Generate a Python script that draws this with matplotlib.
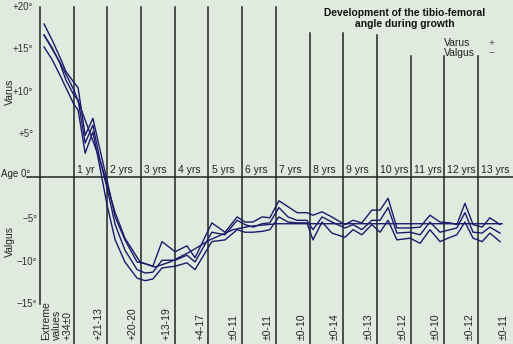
import numpy as np
import matplotlib
matplotlib.use("Agg")
import matplotlib.pyplot as plt

plt.rcParams['font.family'] = ['Liberation Sans', 'DejaVu Sans']

# age (years) of the plotted points for the three jagged curves
ages = [0.12, 0.36, 0.59, 0.77, 1.01, 1.13, 1.34, 1.57, 1.78, 1.99,
        2.23, 2.52, 2.88, 3.12, 3.35, 3.62, 4.01, 4.36, 4.60, 5.10,
        5.49, 5.85, 6.08, 6.32, 6.59, 6.82, 7.09, 7.36, 7.63, 7.92,
        8.10, 8.37, 8.66, 9.05, 9.29, 9.55, 9.85, 10.09, 10.33, 10.59,
        10.98, 11.28, 11.57, 11.87, 12.17, 12.37, 12.61, 12.85, 13.12, 13.35,
        13.65]

upper = [18.0, 16.1, 14.1, 12.4, 11.1, 10.5, 4.9, 6.9, 3.2, -0.4,
         -4.7, -7.4, -10.0, -10.2, -10.5, -7.6, -8.8, -8.1, -9.5, -5.4,
         -6.5, -4.7, -5.3, -5.3, -4.7, -4.8, -2.8, -3.5, -4.2, -4.2,
         -4.5, -4.1, -4.7, -5.6, -5.1, -5.4, -3.9, -3.9, -2.5, -6.0,
         -6.0, -5.9, -4.5, -5.3, -5.4, -5.6, -3.1, -5.6, -5.9, -4.8,
         -5.6]

mean = [16.7, 15.2, 13.4, 11.4, 9.6, 9.1, 4.0, 6.1, 2.0, -1.3,
        -5.6, -8.6, -10.9, -11.3, -11.2, -9.8, -9.8, -9.2, -10.0, -6.5,
        -6.8, -5.1, -5.6, -5.9, -5.5, -5.4, -3.6, -4.7, -5.1, -5.1,
        -6.2, -4.7, -5.3, -6.0, -5.6, -6.2, -5.1, -5.1, -3.6, -6.6,
        -6.5, -6.8, -5.3, -6.5, -6.2, -6.0, -4.2, -6.5, -6.6, -5.9,
        -6.6]

lower = [15.3, 13.8, 12.0, 10.5, 8.5, 7.9, 2.8, 5.3, 1.1, -3.3,
         -7.4, -10.0, -11.9, -12.2, -12.0, -10.7, -10.5, -10.1, -10.9, -7.6,
         -7.4, -6.2, -6.5, -6.5, -6.4, -6.2, -4.7, -5.3, -5.4, -5.4,
         -7.4, -5.3, -6.6, -7.1, -6.2, -6.8, -5.6, -6.5, -5.1, -7.4,
         -7.2, -7.8, -6.2, -7.6, -7.1, -6.8, -5.3, -7.2, -7.6, -6.6,
         -7.6]

# smoothed curve
smooth_ages = [0.12, 0.59, 1.01, 1.34, 1.78, 1.99, 2.23, 2.52, 2.97, 3.41,
               3.86, 4.45, 5.04, 5.73, 6.23, 7.03, 13.71]
smooth_vals = [16.7, 13.5, 10.2, 6.7, 2.0, -0.9, -4.2, -7.2, -10.0, -10.6,
               -10.0, -8.8, -7.4, -6.2, -5.8, -5.5, -5.5]

year_marks = list(range(14))
year_tops = [20, 20, 20, 20, 20, 20, 20, 20, 16.9, 16.9, 16.7, 14.2, 14.2, 14.2]
year_labels = ['1 yr'] + ['%d yrs' % k for k in range(2, 14)]
extreme_labels = ['+21-13', '+20-20', '+13-19', '+4-17', '±0-11', '±0-11', '±0-10',
                  '±0-14', '±0-13', '±0-12', '±0-10', '±0-12', '±0-11']
ytick_vals = [20, 15, 10, 5, -5, -10, -15]
ytick_text = ['+20°', '+15°', '+10°', '+5°', '−5°', '−10°', '−15°']

bg = '#e1eadf'
navy = '#1c1a6b'
dark = '#1f2420'

fig = plt.figure(figsize=(5.13, 3.44), dpi=100, facecolor=bg)
ax = fig.add_axes([0, 0, 1, 1])
ax.set_facecolor(bg)
ax.set_xlim(-1.187, 14.036)
ax.set_ylim(-19.65, 20.82)
ax.axis('off')

# grid of year lines
ax.plot([0, 0], [20, -15], color=dark, lw=1.1)
for k, top in zip(year_marks[1:], year_tops[1:]):
    ax.plot([k, k], [top, -20], color=dark, lw=1.1)
ax.plot([-0.39, 14.1], [0, 0], color=dark, lw=1.1)

# curves
for vals in (upper, mean, lower):
    ax.plot(ages, vals, color=navy, lw=1.0)
ax.plot(smooth_ages, smooth_vals, color=navy, lw=1.0)

# y labels
for v, t in zip(ytick_vals, ytick_text):
    xr = -0.2 if v > 0 else -0.08
    ax.text(xr, v, t, ha='right', va='center', fontsize=7, color='#333333')
ax.text(-0.28, 0.35, 'Age 0°', ha='right', va='center', fontsize=7, color='#222222')
ax.text(-0.9, 10.0, 'Varus', rotation=90, ha='center', va='center', fontsize=7.5, color='#222222')
ax.text(-0.9, -7.6, 'Valgus', rotation=90, ha='center', va='center', fontsize=7.5, color='#222222')

# year labels
for k, t in zip(year_marks[1:], year_labels):
    ax.text(k + 0.09, 0.25, t, ha='left', va='bottom', fontsize=7.5, color='#222222')

# extreme values
ax.text(0.18, -19.2, 'Extreme', rotation=90, ha='center', va='bottom', fontsize=7.5, color='#222222')
ax.text(0.49, -19.2, 'values', rotation=90, ha='center', va='bottom', fontsize=7.5, color='#222222')
ax.text(0.81, -19.2, '+34±0', rotation=90, ha='center', va='bottom', fontsize=7.5, color='#222222')
for k, t in zip(year_marks[1:], extreme_labels):
    ax.text(k + 1 - 0.25, -19.2, t, rotation=90, ha='center', va='bottom', fontsize=7.5, color='#222222')

# title and legend
ax.text(10.83, 19.85, 'Development of the tibio-femoral\nangle during growth', ha='center', va='top',
        fontsize=7.4, fontweight='bold', color='#111111', linespacing=1.05)
ax.text(12.0, 15.8, 'Varus', ha='left', va='center', fontsize=7.5, color='#222222')
ax.text(12.0, 14.6, 'Valgus', ha='left', va='center', fontsize=7.5, color='#222222')
ax.text(13.4, 15.8, '+', ha='center', va='center', fontsize=7.5, color='#555555')
ax.text(13.4, 14.6, '−', ha='center', va='center', fontsize=7.5, color='#555555')

fig.savefig('out.png', dpi=100, facecolor=bg)
